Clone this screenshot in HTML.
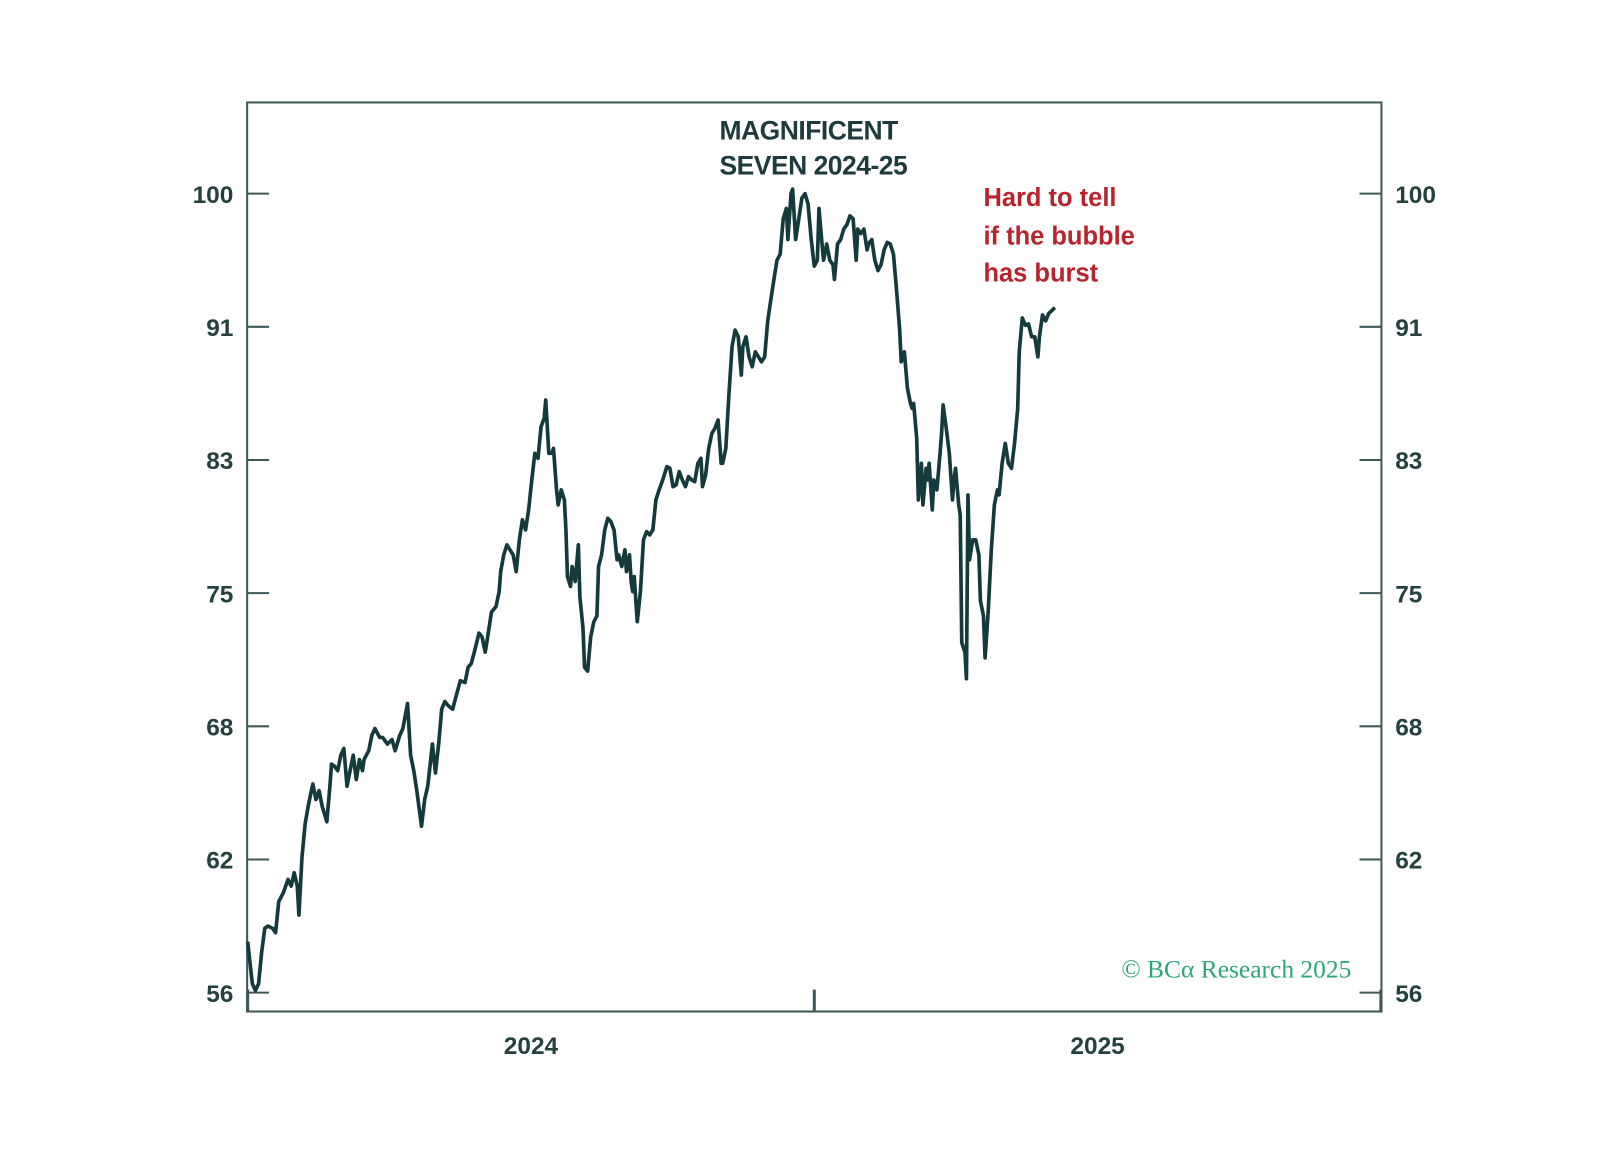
<!DOCTYPE html>
<html><head><meta charset="utf-8"><style>
body{margin:0;background:#fff;}
svg text{font-family:"Liberation Sans",sans-serif;}
</style></head><body>
<svg width="1598" height="1144" viewBox="0 0 1568 1122.5">
<rect x="0" y="0" width="1568" height="1123" fill="#fff"/>
<rect x="242.5" y="100.5" width="1113" height="892" fill="none" stroke="#3e5757" stroke-width="2"/>
<g id="axes"></g>
<path id="line" fill="none" stroke="#153a3b" stroke-width="3.6" stroke-linejoin="round"/>
<text x="706" y="137" font-size="26" fill="#1d3a3c" font-weight="bold" style="letter-spacing:-0.5px">MAGNIFICENT</text>
<text x="706" y="171" font-size="26" fill="#1d3a3c" font-weight="bold" style="letter-spacing:-0.5px">SEVEN 2024-25</text>
<text font-size="25" font-weight="bold" fill="#b8232d">
<tspan x="965" y="202">Hard to tell</tspan><tspan x="965" y="240">if the bubble</tspan><tspan x="965" y="276">has burst</tspan></text>
<text x="1326" y="959" text-anchor="end" font-size="25" fill="#2fa57a" style="font-family:'Liberation Serif',serif">© BCα Research 2025</text>
</svg>
<script>
const tickValues=[56,62,68,75,83,91,100];
const xLabels=["2024","2025"];
const axisDays=[0,365,730];
const days=[0,3,5,7,9,11,13,16,18,20,23,26,28,30,32,33,35,37,39,41,42,44,46,48,51,53,54,56,58,60,62,64,66,68,70,72,74,75,78,80,82,85,87,90,93,95,98,100,103,105,107,109,112,114,116,119,121,123,125,127,129,132,135,137,140,142,144,146,149,151,153,155,157,160,162,163,165,167,169,171,173,175,177,179,181,183,185,187,189,191,192,194,196,197,199,200,202,204,205,206,208,209,211,213,214,216,217,219,221,223,225,226,228,230,232,234,236,238,239,241,243,244,246,247,248,249,251,253,255,257,259,261,263,265,267,269,270,272,274,276,278,280,282,284,286,288,290,292,293,295,297,299,301,303,305,306,308,310,312,314,316,318,319,321,323,325,327,329,331,333,335,337,339,341,343,345,347,348,350,351,353,355,357,359,361,363,365,367,368,370,371,373,375,377,378,380,382,384,386,388,390,392,393,395,397,399,400,402,404,406,408,410,412,414,416,418,420,421,423,425,427,428,429,431,432,434,435,437,438,439,441,442,444,446,447,448,450,452,454,455,456,458,459,460,462,463,464,465,467,469,471,472,474,475,477,479,481,483,484,486,488,490,492,494,496,497,499,501,503,505,507,509,510,512,514,516,518,520];
const values=[58.3,56.4,56.1,56.4,57.8,58.9,59.0,58.9,58.7,60.1,60.5,61.1,60.8,61.4,60.8,59.5,62.1,63.6,64.4,65.1,65.4,64.7,65.1,64.4,63.7,65.3,66.3,66.2,66.0,66.7,67.0,65.3,66.0,66.7,65.6,66.5,66.0,66.5,66.9,67.6,67.9,67.5,67.5,67.2,67.4,66.9,67.6,67.9,69.2,66.7,66.0,65.1,63.5,64.7,65.3,67.2,65.9,67.2,68.9,69.3,69.1,68.9,69.8,70.4,70.3,71.1,71.3,71.9,72.9,72.7,71.9,72.9,74.0,74.3,75.1,76.3,77.3,77.9,77.6,77.3,76.3,78.2,79.4,78.8,80.0,81.8,83.4,83.1,85.0,85.5,86.6,83.4,83.4,83.7,81.2,80.3,81.2,80.6,78.8,76.0,75.4,76.6,75.7,77.9,74.8,73.2,71.1,70.9,72.7,73.5,73.8,76.6,77.3,78.8,79.5,79.3,78.8,77.0,77.3,76.6,77.6,76.3,77.3,75.7,75.1,76.0,73.5,75.1,78.2,78.7,78.5,78.8,80.6,81.2,81.7,82.3,82.6,82.5,81.4,81.5,82.3,81.8,81.4,82.0,81.8,81.7,82.8,83.1,81.4,82.1,83.7,84.6,84.9,85.4,82.8,82.8,83.7,86.9,89.8,90.8,90.4,88.1,89.8,90.4,89.2,88.6,89.5,89.2,88.9,89.2,91.4,92.8,94.2,95.5,95.9,98.3,99.0,96.9,100.0,100.3,96.9,98.3,99.7,100.0,99.3,96.9,95.1,95.5,99.0,96.6,95.5,96.6,95.5,95.2,94.2,96.6,96.9,97.6,97.9,98.5,98.3,95.5,97.6,97.3,97.6,96.2,96.6,96.9,95.5,94.8,95.2,96.2,96.7,96.6,95.9,93.5,90.8,88.9,89.5,87.3,86.4,86.1,86.4,84.3,80.6,82.8,80.3,82.5,81.8,82.8,80.0,81.8,81.2,83.4,84.6,86.3,84.9,83.4,80.6,81.8,82.5,80.3,79.7,72.4,71.9,70.5,80.9,77.0,78.2,78.2,77.3,74.6,73.8,71.6,74.0,77.6,80.3,81.2,80.9,82.8,84.0,82.8,82.5,84.0,86.1,89.5,91.6,91.1,91.2,90.4,90.4,89.2,90.4,91.8,91.4,91.9,92.1,92.3];
const NS="http://www.w3.org/2000/svg";
const yTop=190,yBot=974,step=(yBot-yTop)/(tickValues.length-1);
function yScale(v){
  for(let i=0;i<tickValues.length-1;i++){
    const a=tickValues[i],b=tickValues[i+1];
    if(v<=b||i===tickValues.length-2){return yBot-(i+(v-a)/(b-a))*step;}
  }
}
const x0=243,x1=1355;
function xScale(d){return x0+d*(x1-x0)/axisDays[axisDays.length-1];}
const axes=document.getElementById('axes');
function mk(tag,attrs,txt){const e=document.createElementNS(NS,tag);for(const k in attrs)e.setAttribute(k,attrs[k]);if(txt)e.textContent=txt;axes.appendChild(e);return e;}
tickValues.forEach(v=>{
  const y=yScale(v);
  let e=mk('line',{x1:242,x2:264,y1:y,y2:y,stroke:'#3e5757','stroke-width':2});
  
  
  e=mk('line',{x1:1334,x2:1356,y1:y,y2:y,stroke:'#3e5757','stroke-width':2});
  
  
  e=mk('text',{x:229,y:y+9,'text-anchor':'end','font-size':24,'font-weight':'bold',fill:'#24403f'},String(v));
  
  
  e=mk('text',{x:1369,y:y+9,'font-size':24,'font-weight':'bold',fill:'#24403f'},String(v));
  
  
});
axisDays.forEach(d=>{
  const x=xScale(d);
  const e=mk('line',{x1:x,x2:x,y1:971,y2:993,stroke:'#3e5757','stroke-width':3});
  
  
});
xLabels.forEach((t,i)=>{
  const x=(xScale(axisDays[i])+xScale(axisDays[i+1]))/2;
  const e=mk('text',{x:x,y:1034,'text-anchor':'middle','font-size':24,'font-weight':'bold',fill:'#24403f'},t);
  
  
});
const n=Math.min(days.length,values.length);
let d='';
for(let i=0;i<n;i++){d+=(i?'L':'M')+xScale(days[i]).toFixed(1)+','+yScale(values[i]).toFixed(1);}
document.getElementById('line').setAttribute('d',d);
</script>
</body></html>
